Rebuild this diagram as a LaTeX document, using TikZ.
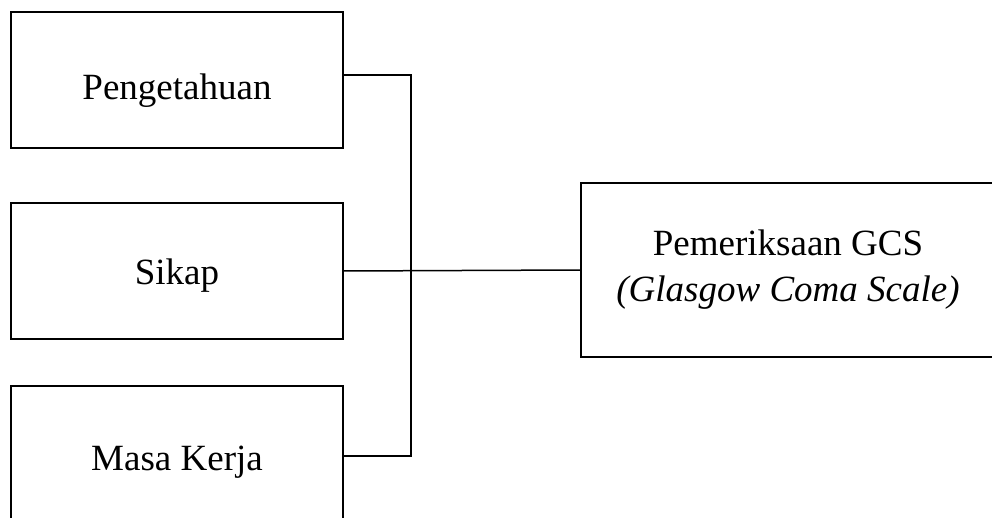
\documentclass[tikz,border=0pt]{standalone}
\usepackage{fontspec}
\setmainfont{Liberation Serif}
\begin{document}
\begin{tikzpicture}[x=1pt,y=-1pt,line width=1.5pt,
    box/.style={rectangle,draw,minimum width=332pt,minimum height=136pt,inner sep=0pt,
        text height=28pt,text depth=0pt,font=\fontsize{37}{46}\selectfont}]
        \useasboundingbox (0,0) rectangle (992,518);
        \clip (0,0) rectangle (992,518);
        \draw (177,80) node (peng) [box, text height=40pt] {Pengetahuan};
        \draw (177,271) node (sikap) [box] {Sikap};
        \draw (177,456) node (masa) [box, minimum height=140pt] {Masa Kerja};
        \draw (788,270) node (gcs) [box, minimum width=414pt, minimum height=174pt,
            text height=, text depth=, align=center] {Pemeriksaan GCS\\\textit{(Glasgow Coma Scale)}};

        \coordinate (bus) at (411,0);
        \draw ([yshift=5pt]peng.east) -| (bus |- masa.east) -- (masa.east);
        \draw (sikap.east) -- (gcs.west);

    \end{tikzpicture}
\end{document}
